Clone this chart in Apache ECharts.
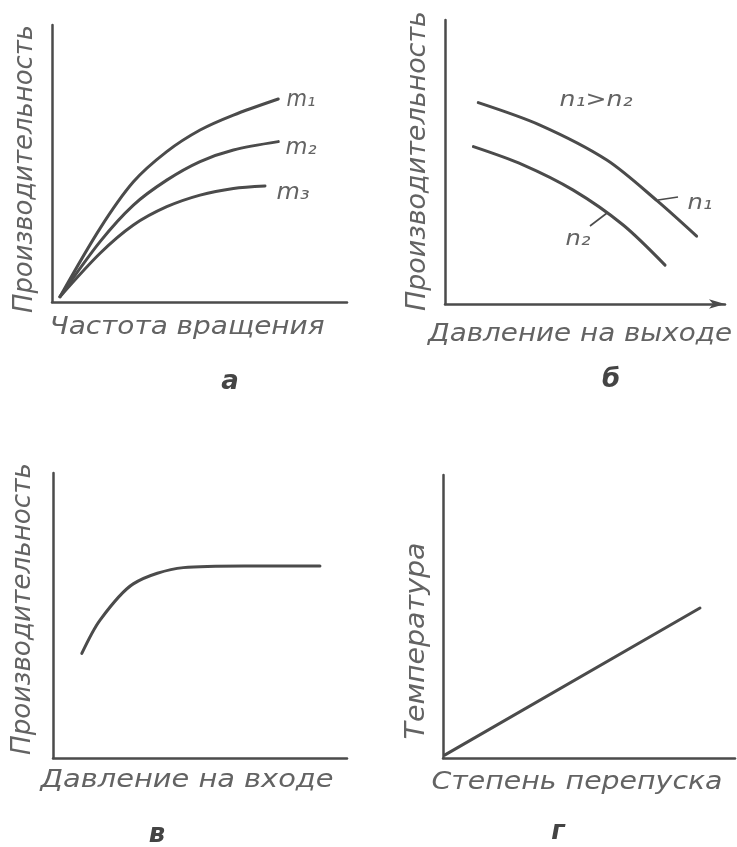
<!DOCTYPE html>
<html><head><meta charset="utf-8">
<script src="https://cdn.jsdelivr.net/npm/echarts@6/dist/echarts.min.js"></script>
<style>html,body{margin:0;padding:0;background:#fff}#c{width:737px;height:847px}</style>
</head><body><div id="c"></div>
<script>
// ---- data (arbitrary units 0..100) ----
const curveM1 = [[2.7,1.9],[16.3,26.6],[27.6,43.4],[38.9,54.3],[50.2,62.1],[61.5,67.5],[76.7,73.3]];
const curveM2 = [[2.7,1.9],[16.3,21.8],[27.6,35.0],[38.9,44.0],[50.2,50.7],[61.5,54.9],[76.7,57.9]];
const curveM3 = [[2.7,1.9],[16.3,17.6],[27.6,27.8],[38.9,34.4],[50.2,38.6],[61.5,41.0],[72.2,41.9]];
const curveN1 = [[11.6,70.9],[33.1,63.0],[56.4,50.7],[74.0,36.3],[87.7,23.9]];
const curveN2 = [[9.9,55.4],[27.0,49.1],[44.7,40.1],[62.0,27.9],[76.7,13.7]];
const curveInlet = [[9.8,36.7],[16.0,48.4],[27.3,61.1],[44.3,66.8],[65.0,67.4],[90.8,67.4]];
const lineBypass = [[0.7,1.1],[88.0,53.0]];

const seriesNames = ['m₁','m₂','m₃','n₁','n₂'];
const axisTitlesY = ['Производительность','Производительность','Производительность','Температура'];
const axisTitlesX = ['Частота вращения','Давление на выходе','Давление на входе','Степень перепуска'];
const panelLetters = ['а','б','в','г'];
const relationText = 'n₁>n₂';

// ---- chart ----
const INK = '#4b4b4b';
const TXT = '#636363';
const FONT = '"DejaVu Sans", sans-serif';
const chart = echarts.init(document.getElementById('c'));

const grids = [
  {left:52, top:25, width:295, height:277},
  {left:445, top:20, width:280, height:284},
  {left:53, top:473, width:294, height:285},
  {left:443, top:475, width:292, height:283}
];
const xMax = [100, 97.6, 100, 100];

function axisX(i){
  return {gridIndex:i, type:'value', min:0, max:xMax[i],
    axisLine:{show:true, onZero:false, lineStyle:{color:INK, width:2.5},
      symbol: i===1 ? ['none','arrow'] : ['none','none'], symbolSize:[7,16]},
    axisTick:{show:false}, axisLabel:{show:false}, splitLine:{show:false}};
}
function axisY(i){
  return {gridIndex:i, type:'value', min:0, max:100,
    axisLine:{show:true, onZero:false, lineStyle:{color:INK, width:2.5}},
    axisTick:{show:false}, axisLabel:{show:false}, splitLine:{show:false}};
}
function curve(name, gi, data, smooth){
  return {name, type:'line', xAxisIndex:gi, yAxisIndex:gi, data, smooth:smooth,
    showSymbol:false, symbol:'none', silent:true, animation:false,
    lineStyle:{color:INK, width:3, cap:'round'}};
}

chart.setOption({
  animation:false,
  grid: grids.map(g => Object.assign({containLabel:false, outerBoundsMode:'none'}, g)),
  xAxis: [0,1,2,3].map(axisX),
  yAxis: [0,1,2,3].map(axisY),
  series: [
    curve(seriesNames[0],0,curveM1,0.3),
    curve(seriesNames[1],0,curveM2,0.3),
    curve(seriesNames[2],0,curveM3,0.3),
    curve(seriesNames[3],1,curveN1,0.3),
    curve(seriesNames[4],1,curveN2,0.3),
    curve('inlet',2,curveInlet,0.3),
    curve('bypass',3,lineBypass,false)
  ]
});

// ---- annotations ----
const mctx = document.createElement('canvas').getContext('2d');
function txt(text, cx, cy, size, targetLen, rot, extra){
  extra = extra || {};
  const wt = extra.weight || 'normal';
  mctx.font = 'italic ' + wt + ' ' + size + 'px ' + FONT;
  const w = mctx.measureText(text).width;
  const s = targetLen ? targetLen / w : 1;
  return {type:'text', x:cx, y:cy, rotation:rot||0, scaleX:s, silent:true,
    style:{text:text, fontSize:size, fontFamily:FONT, fontStyle:'italic', fontWeight:wt,
      fill: extra.fill || TXT, align:'center', verticalAlign:'middle',
      textAlign:'center', textVerticalAlign:'middle'}};
}
const R = Math.PI/2;
const g = [];
// axis titles
g.push(txt(axisTitlesY[0], 25, 169, 26, 288, R));
g.push(txt(axisTitlesX[0], 187, 328, 24, 275, 0));
g.push(txt(axisTitlesY[1], 418, 161, 26, 300, R));
g.push(txt(axisTitlesX[1], 580, 335, 24, 304, 0));
g.push(txt(axisTitlesY[2], 23, 609, 26, 292, R));
g.push(txt(axisTitlesX[2], 187, 781, 24, 293, 0));
g.push(txt(axisTitlesY[3], 417, 641, 26, 197, R));
g.push(txt(axisTitlesX[3], 577, 783, 24, 291, 0));
// panel letters
g.push(txt(panelLetters[0], 230, 382, 26, 0, 0, {weight:'bold', fill:'#444'}));
g.push(txt(panelLetters[1], 611, 380, 26, 0, 0, {weight:'bold', fill:'#444'}));
g.push(txt(panelLetters[2], 157, 835, 26, 0, 0, {weight:'bold', fill:'#444'}));
g.push(txt(panelLetters[3], 558, 832, 26, 0, 0, {weight:'bold', fill:'#444'}));
// curve labels
g.push(txt(seriesNames[0], 301, 100, 23, 29, 0));
g.push(txt(seriesNames[1], 301, 148, 23, 31, 0));
g.push(txt(seriesNames[2], 293, 193, 23, 33, 0));
g.push(txt(relationText, 596, 101, 21, 73, 0));
g.push(txt(seriesNames[3], 700, 204, 21, 25, 0));
g.push(txt(seriesNames[4], 578, 240, 21, 25, 0));
// leader ticks (annotation strokes)
g.push({type:'line', silent:true, shape:{x1:658, y1:200, x2:678, y2:197}, style:{stroke:INK, lineWidth:1.6}});
g.push({type:'line', silent:true, shape:{x1:607, y1:213, x2:590, y2:226}, style:{stroke:INK, lineWidth:1.6}});

chart.setOption({graphic:{elements:g}});
</script>
</body></html>
